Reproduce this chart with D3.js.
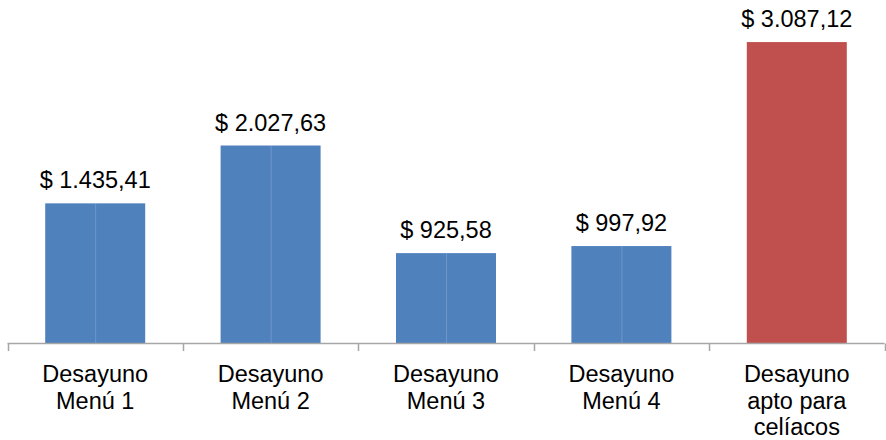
<!DOCTYPE html>
<html><head><meta charset="utf-8">
<script src="https://cdn.jsdelivr.net/npm/d3@7"></script>
<style>body{margin:0;background:#fff}svg{display:block}</style>
</head><body>
<svg id="c" width="886" height="440"></svg>
<script>
const categories = [["Desayuno","Menú 1"],["Desayuno","Menú 2"],["Desayuno","Menú 3"],["Desayuno","Menú 4"],["Desayuno","apto para","celíacos"]];
const values = [1435.41, 2027.63, 925.58, 997.92, 3087.12];
const labels = ["$ 1.435,41","$ 2.027,63","$ 925,58","$ 997,92","$ 3.087,12"];
const colors = ["#4F81BD","#4F81BD","#4F81BD","#4F81BD","#C0504D"];

const svg = d3.select("#c");
const x = d3.scaleBand().domain(d3.range(values.length)).range([7.5, 884.5]).paddingInner(0).paddingOuter(0);
const y = d3.scaleLinear().domain([0, 3500]).range([343.5, 1.75]);
const bw = 100;
const font = "Liberation Sans, Arial, sans-serif";

const g = svg.append("g");
values.forEach((v, i) => {
  const cx = x(i) + x.bandwidth() / 2;
  g.append("rect").attr("x", cx - bw / 2).attr("y", y(v)).attr("width", bw)
    .attr("height", y(0) - y(v)).attr("fill", colors[i]);
  if (i < 4) {
    g.append("line").attr("x1", cx + 0.5).attr("x2", cx + 0.5).attr("y1", y(v)).attr("y2", y(0))
      .attr("stroke", "rgba(255,255,255,0.18)").attr("stroke-width", 1);
  }
  g.append("text").attr("x", cx).attr("y", y(v) - 15).attr("text-anchor", "middle")
    .attr("font-family", font).attr("font-size", 23.5).attr("fill", "#000").text(labels[i]);
  const t = g.append("text").attr("text-anchor", "middle").attr("font-family", font)
    .attr("font-size", 23.5).attr("fill", "#000");
  categories[i].forEach((line, k) => {
    t.append("tspan").attr("x", cx).attr("y", 382 + k * 26.5).text(line);
  });
});

// axis
const ax = svg.append("g");
ax.append("line").attr("x1", 7.5).attr("x2", 884.5).attr("y1", 343.5).attr("y2", 343.5)
  .attr("stroke", "#A6A6A6").attr("stroke-width", 1.5);
d3.range(values.length + 1).forEach(i => {
  const tx = Math.round(7.5 + i * x.bandwidth()) + 0.5;
  ax.append("line").attr("x1", tx).attr("x2", tx).attr("y1", 343.5).attr("y2", 351)
    .attr("stroke", "#A6A6A6").attr("stroke-width", 1.5);
});
</script>
</body></html>
